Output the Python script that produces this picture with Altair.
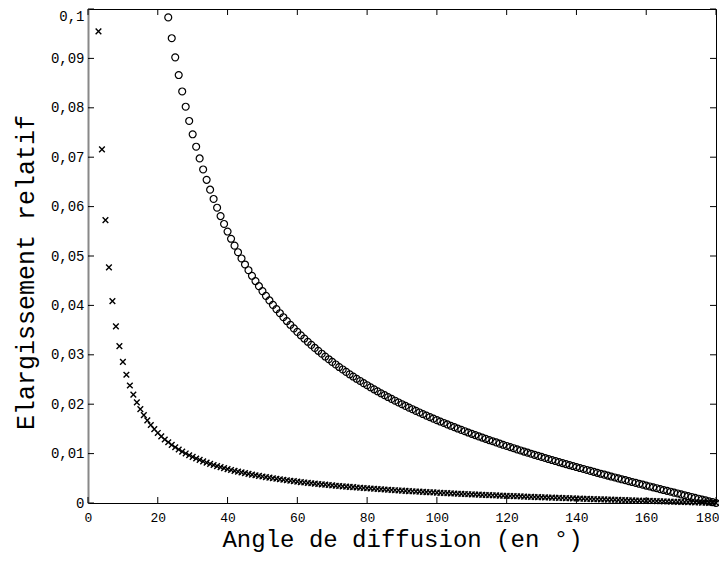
import altair as alt
import pandas as pd

# Angles (degrees) of each measured point
cross_angles = list(range(3, 181))
circle_angles = list(range(23, 181))

# Relative broadening, series "x"
cross_values = [
    0.09547, 0.07159, 0.05726, 0.04770, 0.04088, 0.03575, 0.03177, 0.02858, 0.02596, 0.02379,
    0.02194, 0.02036, 0.01899, 0.01779, 0.01673, 0.01579, 0.01494, 0.01418, 0.01349, 0.01286,
    0.01229, 0.01176, 0.01128, 0.01083, 0.01041, 0.01003, 0.00967, 0.00933, 0.00901, 0.00872,
    0.00844, 0.00818, 0.00793, 0.00769, 0.00747, 0.00726, 0.00706, 0.00687, 0.00669, 0.00651,
    0.00635, 0.00619, 0.00604, 0.00589, 0.00575, 0.00562, 0.00549, 0.00536, 0.00524, 0.00513,
    0.00501, 0.00491, 0.00480, 0.00470, 0.00460, 0.00451, 0.00442, 0.00433, 0.00424, 0.00416,
    0.00408, 0.00400, 0.00392, 0.00385, 0.00378, 0.00371, 0.00364, 0.00357, 0.00350, 0.00344,
    0.00338, 0.00332, 0.00326, 0.00320, 0.00314, 0.00309, 0.00303, 0.00298, 0.00293, 0.00288,
    0.00283, 0.00278, 0.00273, 0.00268, 0.00263, 0.00259, 0.00254, 0.00250, 0.00246, 0.00241,
    0.00237, 0.00233, 0.00229, 0.00225, 0.00221, 0.00217, 0.00214, 0.00210, 0.00206, 0.00202,
    0.00199, 0.00195, 0.00192, 0.00188, 0.00185, 0.00182, 0.00178, 0.00175, 0.00172, 0.00169,
    0.00165, 0.00162, 0.00159, 0.00156, 0.00153, 0.00150, 0.00147, 0.00144, 0.00141, 0.00139,
    0.00136, 0.00133, 0.00130, 0.00127, 0.00125, 0.00122, 0.00119, 0.00117, 0.00114, 0.00111,
    0.00109, 0.00106, 0.00104, 0.00101, 0.00098, 0.00096, 0.00093, 0.00091, 0.00089, 0.00086,
    0.00084, 0.00081, 0.00079, 0.00076, 0.00074, 0.00072, 0.00069, 0.00067, 0.00065, 0.00062,
    0.00060, 0.00058, 0.00055, 0.00053, 0.00051, 0.00049, 0.00046, 0.00044, 0.00042, 0.00040,
    0.00037, 0.00035, 0.00033, 0.00031, 0.00028, 0.00026, 0.00024, 0.00022, 0.00020, 0.00017,
    0.00015, 0.00013, 0.00011, 0.00009, 0.00007, 0.00004, 0.00002, 0.0,
]

# Relative broadening, series "o"
circle_values = [
    0.09830, 0.09409, 0.09021, 0.08663, 0.08331, 0.08022, 0.07733, 0.07464, 0.07212, 0.06975,
    0.06752, 0.06542, 0.06343, 0.06155, 0.05977, 0.05808, 0.05648, 0.05495, 0.05349, 0.05210,
    0.05077, 0.04950, 0.04828, 0.04712, 0.04600, 0.04492, 0.04389, 0.04289, 0.04193, 0.04101,
    0.04011, 0.03925, 0.03842, 0.03761, 0.03684, 0.03608, 0.03535, 0.03464, 0.03395, 0.03329,
    0.03264, 0.03201, 0.03139, 0.03080, 0.03022, 0.02965, 0.02910, 0.02856, 0.02804, 0.02753,
    0.02703, 0.02654, 0.02606, 0.02560, 0.02514, 0.02470, 0.02426, 0.02384, 0.02342, 0.02301,
    0.02261, 0.02221, 0.02183, 0.02145, 0.02108, 0.02071, 0.02035, 0.02000, 0.01965, 0.01931,
    0.01898, 0.01865, 0.01833, 0.01801, 0.01769, 0.01739, 0.01708, 0.01678, 0.01649, 0.01620,
    0.01591, 0.01563, 0.01535, 0.01507, 0.01480, 0.01453, 0.01427, 0.01400, 0.01375, 0.01349,
    0.01324, 0.01299, 0.01274, 0.01250, 0.01226, 0.01202, 0.01178, 0.01155, 0.01132, 0.01109,
    0.01086, 0.01063, 0.01041, 0.01019, 0.00997, 0.00975, 0.00954, 0.00933, 0.00911, 0.00890,
    0.00870, 0.00849, 0.00828, 0.00808, 0.00788, 0.00768, 0.00748, 0.00728, 0.00708, 0.00689,
    0.00669, 0.00650, 0.00631, 0.00611, 0.00592, 0.00574, 0.00555, 0.00536, 0.00517, 0.00499,
    0.00480, 0.00462, 0.00443, 0.00425, 0.00407, 0.00389, 0.00371, 0.00353, 0.00335, 0.00317,
    0.00299, 0.00281, 0.00263, 0.00246, 0.00228, 0.00210, 0.00193, 0.00175, 0.00157, 0.00140,
    0.00122, 0.00105, 0.00087, 0.00070, 0.00052, 0.00035, 0.00017, 0.0,
]

x_ticks = [0, 20, 40, 60, 80, 100, 120, 140, 160, 180]
y_ticks = [0, 0.01, 0.02, 0.03, 0.04, 0.05, 0.06, 0.07, 0.08, 0.09, 0.1]

W, H = 628, 494
FONT = "Liberation Mono"
TICK = 6

df_cross = pd.DataFrame({"angle": cross_angles, "val": cross_values})
df_circle = pd.DataFrame({"angle": circle_angles, "val": circle_values})
df_xt = pd.DataFrame({"t": x_ticks})
df_yt = pd.DataFrame({"v": y_ticks})

xscale = alt.Scale(domain=[0, 180], nice=False, zero=False)
yscale = alt.Scale(domain=[0, 0.1], nice=False, zero=False)

x_enc = alt.X(
    "angle:Q", scale=xscale,
    axis=alt.Axis(values=x_ticks, title="Angle de diffusion (en °)", ticks=False,
                  domain=False, grid=False, labelFont=FONT, labelFontSize=13,
                  labelColor="black", labelPadding=8, labelFlush=False,
                  labelAlign={"condition": {"test": "datum.value >= 180", "value": "right"},
                              "value": "center"},
                  labelOffset={"condition": {"test": "datum.value >= 180", "value": 3},
                               "value": 0},
                  titleFont=FONT, titleFontSize=24, titleFontWeight="normal",
                  titleColor="black", titlePadding=3),
)
y_enc = alt.Y(
    "val:Q", scale=yscale,
    axis=alt.Axis(values=y_ticks, title="Elargissement relatif", ticks=False,
                  domain=True, domainColor="#888888", domainWidth=2, grid=False,
                  labelFont=FONT, labelFontSize=14, labelColor="black",
                  labelPadding=4, labelFlush=False,
                  labelBaseline={"condition": {"test": "datum.value >= 0.1", "value": "top"},
                                 "value": "middle"},
                  labelExpr="replace(format(datum.value, '~g'), '.', ',')",
                  titleFont=FONT, titleFontSize=25, titleFontWeight="normal",
                  titleColor="black", titlePadding=12, titleY=H / 2 + 16),
)

crosses = alt.Chart(df_cross).mark_point(
    shape="M-1,-1L1,1M-1,1L1,-1", size=32, filled=False, stroke="black",
    strokeWidth=1.4, opacity=1,
).encode(x=x_enc, y=y_enc)

circles = alt.Chart(df_circle).mark_point(
    shape="circle", size=48, filled=False, stroke="black", strokeWidth=1.2,
    opacity=1,
).encode(x=alt.X("angle:Q", scale=xscale), y=alt.Y("val:Q", scale=yscale))

tick_style = dict(color="black", strokeWidth=1)
bottom_ticks = alt.Chart(df_xt).mark_rule(**tick_style).encode(
    x=alt.X("t:Q", scale=xscale), y=alt.value(H), y2=alt.value(H - TICK))
top_ticks = alt.Chart(df_xt).mark_rule(**tick_style).encode(
    x=alt.X("t:Q", scale=xscale), y=alt.value(0), y2=alt.value(TICK))
left_ticks = alt.Chart(df_yt).mark_rule(**tick_style).encode(
    y=alt.Y("v:Q", scale=yscale), x=alt.value(0), x2=alt.value(TICK))
right_ticks = alt.Chart(df_yt).mark_rule(**tick_style).encode(
    y=alt.Y("v:Q", scale=yscale), x=alt.value(W), x2=alt.value(W - TICK))

chart = alt.layer(
    crosses, circles, bottom_ticks, top_ticks, left_ticks, right_ticks
).properties(
    width=W, height=H,
    autosize=alt.AutoSizeParams(type="none"),
    padding={"left": 80, "top": 1, "right": 3, "bottom": 54},
    background="white",
).configure_view(stroke="black", strokeWidth=1)

chart.save("out.html", embed_options={"renderer": "svg", "actions": False})
